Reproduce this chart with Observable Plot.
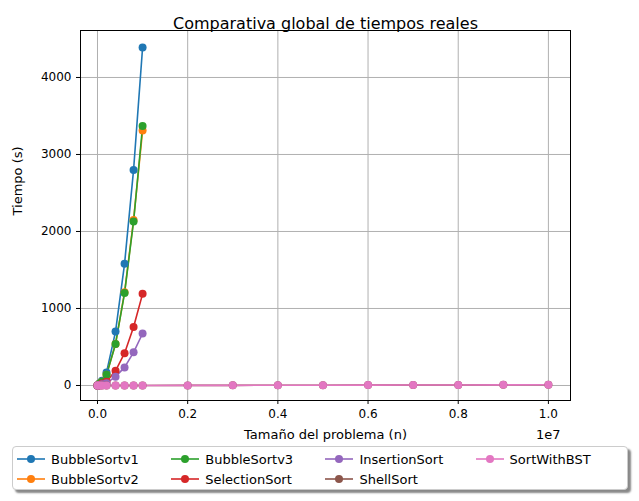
<!DOCTYPE html>
<html><head><meta charset="utf-8">
<script src="https://cdn.jsdelivr.net/npm/d3@7"></script>
<script src="https://cdn.jsdelivr.net/npm/@observablehq/plot@0.6"></script>
<style>
body{margin:0;background:#fff;font-family:"DejaVu Sans",sans-serif}
#legend{position:absolute;left:12px;top:446px;width:616px;height:44px;border:1px solid #ccc;border-radius:4px;box-shadow:3px 3px 2px #888;background:#fff;display:grid;grid-template-rows:20px 20px;grid-auto-flow:column;grid-template-columns:repeat(4,auto);font-size:13px;padding:2px 4px;box-sizing:border-box}
#legend div{display:flex;align-items:center;gap:6px;height:20px}
</style></head><body>
<div id="chart"></div>
<div id="legend"></div>
<script>
const series = ["BubbleSortv1","BubbleSortv2","BubbleSortv3","SelectionSort","InsertionSort","ShellSort","SortWithBST"];
const colors = ["#1f77b4","#ff7f0e","#2ca02c","#d62728","#9467bd","#8c564b","#e377c2"];
const smallN = [0, 10000, 50000, 100000, 200000, 400000, 600000, 800000, 1000000];
const bigN = [0, 10000, 50000, 100000, 200000, 400000, 600000, 800000, 1000000, 2000000, 3000000, 4000000, 5000000, 6000000, 7000000, 8000000, 9000000, 10000000];
const times = {
  BubbleSortv1: [0, 1, 30, 60, 170, 700, 1580, 2800, 4390],
  BubbleSortv2: [0, 1, 25, 50, 140, 540, 1210, 2150, 3310],
  BubbleSortv3: [0, 1, 25, 50, 140, 540, 1200, 2130, 3370],
  SelectionSort: [0, 0.5, 10, 25, 50, 190, 420, 760, 1190],
  InsertionSort: [0, 0.3, 6, 15, 30, 115, 235, 430, 675],
  ShellSort: [0, 0, 0, 0, 0, 0, 0, 0, 0.5, 1, 2, 3, 4, 5, 6, 7, 9, 10],
  SortWithBST: [0, 0, 0, 0, 0, 0.2, 0.3, 0.4, 0.5, 1, 2, 3, 4, 5, 6, 7, 8, 9]
};
const data = series.flatMap(s => times[s].map((t, i) => ({s, n: (times[s].length > 9 ? bigN : smallN)[i], t})));
const xTicks = d3.range(0, 1e7 + 1, 2e6);
const yTicks = [0, 1000, 2000, 3000, 4000];

const chart = Plot.plot({
  width: 639, height: 446,
  marginLeft: 80, marginRight: 69, marginTop: 30, marginBottom: 46,
  style: {fontFamily: "DejaVu Sans", fontSize: "12px", color: "#000"},
  x: {domain: [-377000, 10490000], label: null},
  y: {domain: [-195, 4610], label: null},
  color: {domain: series, range: colors},
  marks: [
    Plot.gridX({ticks: xTicks, stroke: "#b0b0b0", strokeOpacity: 1}),
    Plot.gridY({ticks: yTicks, stroke: "#b0b0b0", strokeOpacity: 1}),
    Plot.frame({stroke: "#000"}),
    Plot.line(data, {x: "n", y: "t", z: "s", stroke: "s", strokeWidth: 1.6}),
    Plot.dot(data, {x: "n", y: "t", fill: "s", r: 4}),
    Plot.axisX({ticks: xTicks, tickFormat: d => (d / 1e7).toFixed(1), label: null, tickSize: 4, fontSize: 12}),
    Plot.axisY({ticks: yTicks, tickFormat: d => String(d), label: null, tickSize: 4, fontSize: 12}),
    Plot.text(["Comparativa global de tiempos reales"], {frameAnchor: "top", dy: -13, fontSize: 16}),
    Plot.text(["Tamaño del problema (n)"], {frameAnchor: "bottom", dy: 38, fontSize: 13}),
    Plot.text(["1e7"], {frameAnchor: "bottom-right", dx: -10, dy: 38, fontSize: 13}),
    Plot.text(["Tiempo (s)"], {frameAnchor: "left", dx: -63, rotate: -90, fontSize: 13})
  ]
});
d3.select("#chart").append(() => chart);

const legend = d3.select("#legend");
series.forEach((s, i) => {
  const item = legend.append("div");
  const svg = item.append("svg").attr("width", 28).attr("height", 12);
  svg.append("line").attr("x1", 0).attr("x2", 28).attr("y1", 6).attr("y2", 6).attr("stroke", colors[i]).attr("stroke-width", 1.6);
  svg.append("circle").attr("cx", 14).attr("cy", 6).attr("r", 4).attr("fill", colors[i]);
  item.append("span").text(s);
});
</script>
</body></html>
